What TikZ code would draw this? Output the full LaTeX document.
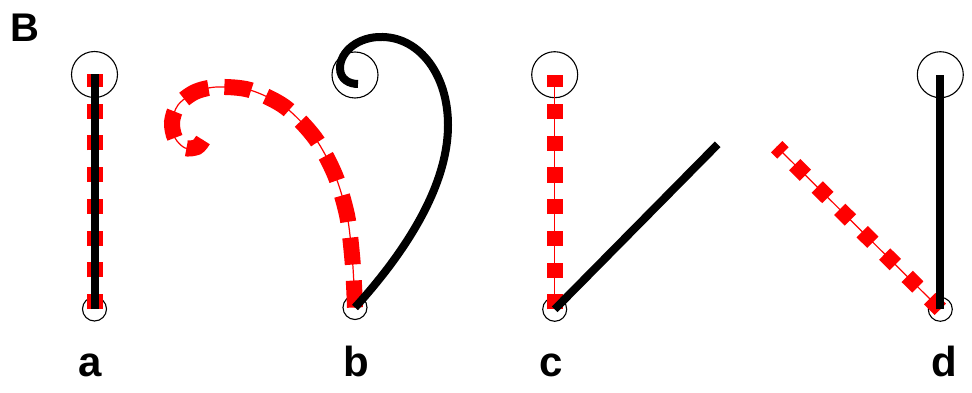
\documentclass[tikz,border=0pt]{standalone}
\usepackage{fontspec}
\setmainfont{Liberation Sans}
\begin{document}
\begin{tikzpicture}[x=1pt,y=-1pt,
  ring/.style={circle,draw,line width=1.1pt,inner sep=0pt,minimum size=46pt},
  smallring/.style={circle,draw,line width=1.1pt,inner sep=0pt,minimum size=24pt},
  blackline/.style={line width=8pt,black},
  reddash/.style={line width=16pt,red,dash pattern=on 15pt off 16.7pt},
  reddashlong/.style={line width=16pt,red,dash pattern=on 27pt off 16pt},
  redthin/.style={line width=1.2pt,red},
  lab/.style={font=\bfseries\fontsize{42}{42}\selectfont,anchor=base,inner sep=0pt}]
\useasboundingbox (0,0) rectangle (972,393);
\node[font=\bfseries\fontsize{40}{40}\selectfont,anchor=base west,inner sep=0pt] (B) at (10,41.7) {B};
% panel a
\node[ring] (a1) at (94.5,74.5) {};
\node[smallring] (a2) at (94.5,309) {};
\draw[redthin] (a2.center) -- (a1.center);
\draw[reddash] (a2.center) -- (a1.center);
\draw[blackline] (a2.center) -- (a1.center);
\node[lab] (la) at (90,376) {a};
% panel b
\node[ring] (b1) at (355,75) {};
\node[smallring] (b2) at (355,307.5) {};
\draw[redthin] plot[smooth] coordinates {(b2.center) (354,285) (352,255) (347,215) (335,175) (315,138) (285,107) (250,90) (217,87) (195,92) (178,105) (172,122) (175,138) (185,148) (197,147) (203,140)};
\draw[reddashlong] plot[smooth] coordinates {(b2.center) (354,285) (352,255) (347,215) (335,175) (315,138) (285,107) (250,90) (217,87) (195,92) (178,105) (172,122) (175,138) (185,148) (197,147) (203,140)};
\draw[blackline] (b2.center) .. controls (400,258) and (448,190) .. (448,125)
  .. controls (448,75) and (420,38) .. (383,37)
  .. controls (358,36) and (340,52) .. (340,68)
  .. controls (340,80) and (350,84) .. (358,84);
\node[lab] (lb) at (356.7,376) {b};
% panel c
\node[ring] (c1) at (554.7,74.7) {};
\node[smallring] (c2) at (554.7,309.3) {};
\coordinate (cend) at (717.7,144.3);
\draw[redthin] (c2.center) -- (c1.center);
\draw[reddash] (c2.center) -- (c1.center);
\draw[blackline] (c2.center) -- (cend);
\node[lab] (lc) at (551,376) {c};
% panel d
\node[ring] (d1) at (940.3,74.7) {};
\node[smallring] (d2) at (940.3,309.3) {};
\coordinate (dend) at (776.7,146.7);
\draw[redthin] (d2.center) -- (dend);
\draw[reddash] (d2.center) -- (dend);
\draw[blackline] (d2.center) -- (d1.center);
\node[lab] (ld) at (944.5,376) {d};
\end{tikzpicture}
\end{document}
